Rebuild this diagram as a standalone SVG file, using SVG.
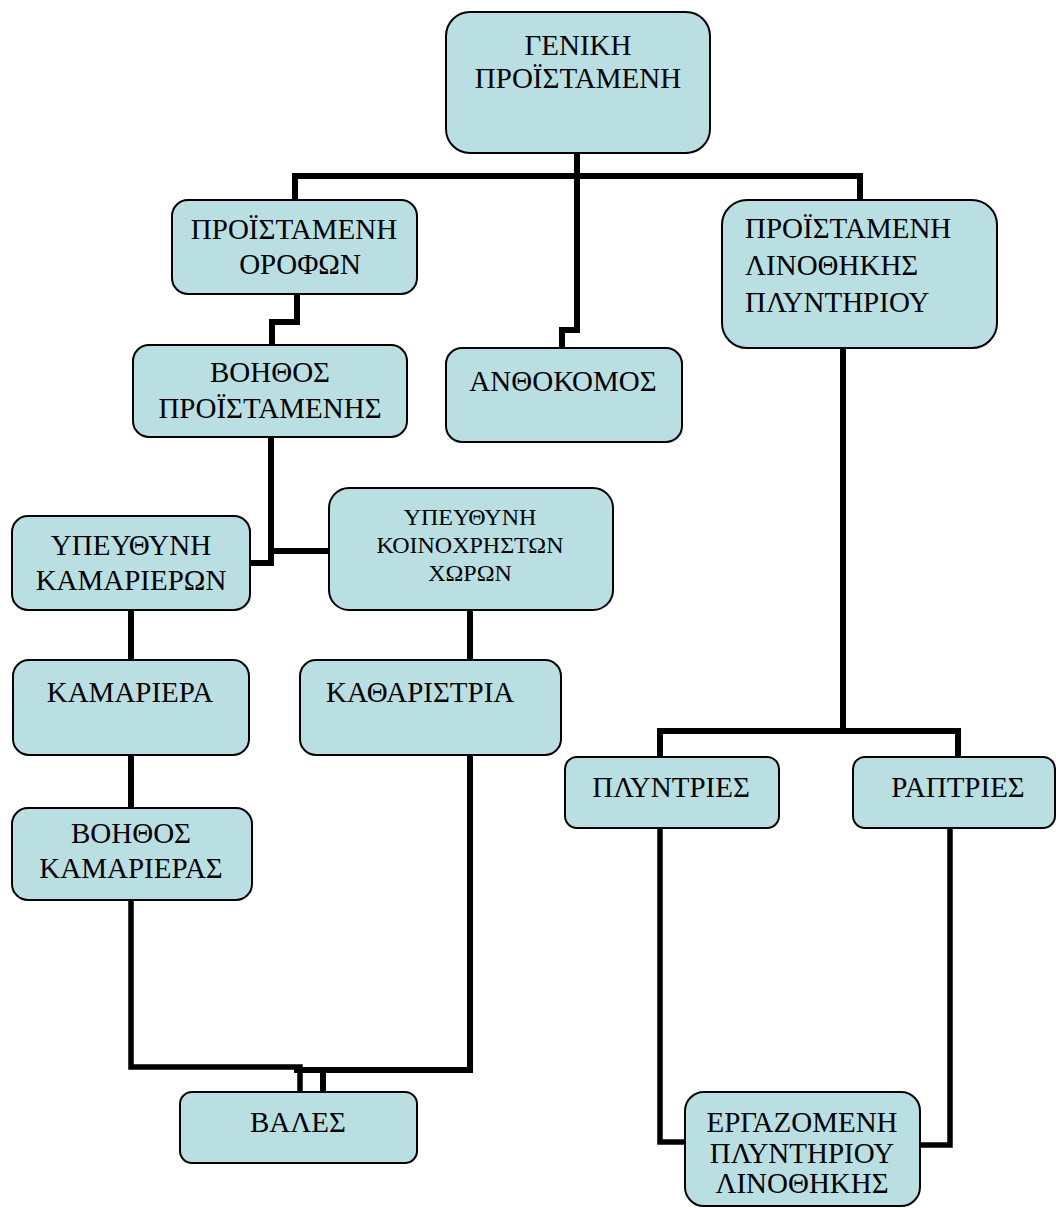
<svg xmlns="http://www.w3.org/2000/svg" width="1056" height="1208" viewBox="0 0 1056 1208">
<style>
.box{fill:#BADFE3;stroke:#000;stroke-width:2}
text{font-family:"Liberation Serif","Times New Roman",serif;font-size:29px;fill:#000;text-anchor:middle}
.s{font-size:24px}
.l{text-anchor:start}
.c{fill:none;stroke:#000;stroke-width:6;stroke-linejoin:miter;stroke-linecap:square}
</style>
<rect width="1056" height="1208" fill="#fff"/>
<g id="connectors">
<path class="c" d="M577 153V176M295 200V176H860V200M577 176V330H562V348"/>
<path class="c" d="M297 294V322H272V345"/>
<path class="c" d="M271 437V563H250M271 551H329"/>
<path class="c" d="M131 610V660M470 610V660M131 755V808"/>
<path class="c" style="stroke-width:5.5" d="M131 900V1067H300V1092"/>
<path class="c" d="M470 755V1070H297M323 1070V1092"/>
<path class="c" d="M843 348V731M660 757V731H958V757"/>
<path class="c" style="stroke-width:5.5" d="M660 828V1142H685M950 828V1145H920"/>
</g>
<g id="n-root"><rect class="box" x="446" y="12" width="264" height="141" rx="24"/><text x="578" y="55">ΓΕΝΙΚΗ</text><text x="578" y="88">ΠΡΟΪΣΤΑΜΕΝΗ</text></g>
<g id="n-orofon"><rect class="box" x="172" y="200" width="245" height="94" rx="16"/><text x="294" y="239">ΠΡΟΪΣΤΑΜΕΝΗ</text><text x="300" y="274">ΟΡΟΦΩΝ</text></g>
<g id="n-linothiki"><rect class="box" x="722" y="200" width="275" height="148" rx="25"/><text class="l" x="745" y="238">ΠΡΟΪΣΤΑΜΕΝΗ</text><text class="l" x="745" y="275">ΛΙΝΟΘΗΚΗΣ</text><text class="l" x="745" y="312">ΠΛΥΝΤΗΡΙΟΥ</text></g>
<g id="n-voithos"><rect class="box" x="133" y="345" width="274" height="92" rx="16"/><text x="270" y="382">ΒΟΗΘΟΣ</text><text x="270" y="418">ΠΡΟΪΣΤΑΜΕΝΗΣ</text></g>
<g id="n-anthokomos"><rect class="box" x="446" y="348" width="236" height="94" rx="16"/><text x="563" y="391">ΑΝΘΟΚΟΜΟΣ</text></g>
<g id="n-ypkamarieron"><rect class="box" x="12" y="516" width="238" height="94" rx="16"/><text x="131" y="555">ΥΠΕΥΘΥΝΗ</text><text x="131" y="590">ΚΑΜΑΡΙΕΡΩΝ</text></g>
<g id="n-ypkoinoxriston"><rect class="box" x="329" y="488" width="284" height="122" rx="20"/><text class="s" x="470" y="525">ΥΠΕΥΘΥΝΗ</text><text class="s" x="470" y="553">ΚΟΙΝΟΧΡΗΣΤΩΝ</text><text class="s" x="470" y="581">ΧΩΡΩΝ</text></g>
<g id="n-kamariera"><rect class="box" x="13" y="660" width="236" height="95" rx="16"/><text x="130" y="702">ΚΑΜΑΡΙΕΡΑ</text></g>
<g id="n-katharistria"><rect class="box" x="300" y="660" width="261" height="95" rx="16"/><text class="l" x="326" y="702">ΚΑΘΑΡΙΣΤΡΙΑ</text></g>
<g id="n-voithoskamarieras"><rect class="box" x="12" y="808" width="240" height="92" rx="16"/><text x="131" y="843">ΒΟΗΘΟΣ</text><text x="131" y="878">ΚΑΜΑΡΙΕΡΑΣ</text></g>
<g id="n-vales"><rect class="box" x="180" y="1092" width="237" height="71" rx="12"/><text x="298" y="1132">ΒΑΛΕΣ</text></g>
<g id="n-plyntries"><rect class="box" x="565" y="757" width="214" height="71" rx="12"/><text x="671" y="797">ΠΛΥΝΤΡΙΕΣ</text></g>
<g id="n-raptries"><rect class="box" x="853" y="757" width="202" height="71" rx="12"/><text x="958" y="797">ΡΑΠΤΡΙΕΣ</text></g>
<g id="n-ergazomeni"><rect class="box" x="685" y="1092" width="235" height="114" rx="19"/><text x="802" y="1132">ΕΡΓΑΖΟΜΕΝΗ</text><text x="802" y="1163">ΠΛΥΝΤΗΡΙΟΥ</text><text x="802" y="1193">ΛΙΝΟΘΗΚΗΣ</text></g>
</svg>
